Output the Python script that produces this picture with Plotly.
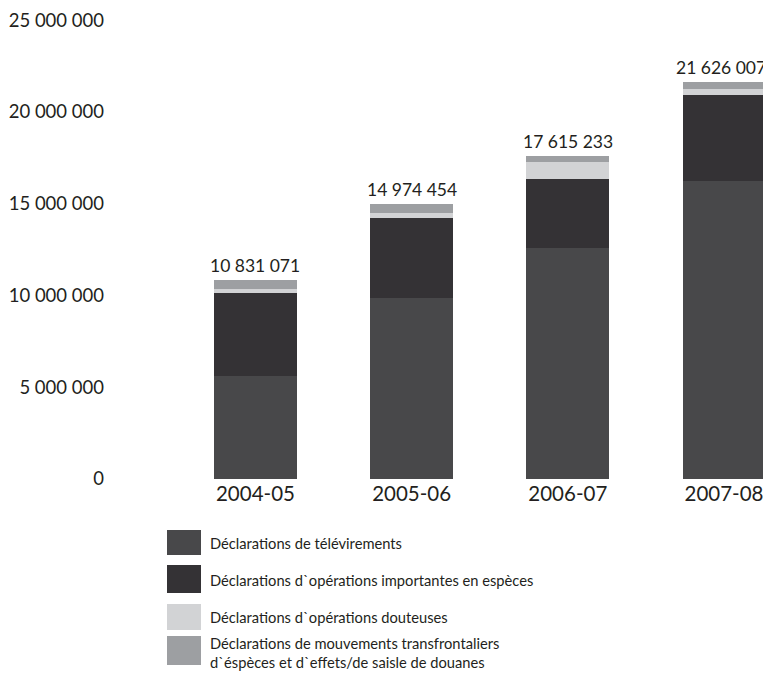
import plotly.graph_objects as go

# ---- data ----
periods = ["2004-05", "2005-06", "2006-07", "2007-08"]
televirements = [5620000, 9860000, 12600000, 16220000]
especes = [4540000, 4360000, 3750000, 4720000]
douteuses = [210000, 300000, 910000, 310000]
transfrontaliers = [461071, 454454, 355233, 376007]
totals = [10831071, 14974454, 17615233, 21626007]
total_labels = ["10 831 071", "14 974 454", "17 615 233", "21 626 007"]

series_names = [
    "Déclarations de télévirements",
    "Déclarations d`opérations importantes en espèces",
    "Déclarations d`opérations douteuses",
    "Déclarations de mouvements transfrontaliers<br>d`éspèces et d`effets/de saisle de douanes",
]
series_values = [televirements, especes, douteuses, transfrontaliers]
colors = ["#48484a", "#343235", "#d2d3d5", "#9d9fa2"]

OFF = 8                      # page body margin
W, H = 771 - OFF, 682 - OFF  # figure size fitting the window
L, R, T, B = 100, 758, 0, 471  # plot area in figure pixels
FONT = "Lato"
TXT = "#231f20"

fig = go.Figure()
for name, vals, col in zip(series_names, series_values, colors):
    fig.add_trace(go.Bar(
        x=periods, y=vals, name=name, marker=dict(color=col, line=dict(width=0)),
        width=0.53, showlegend=False,
    ))

# total labels above the bars
for i, (p, t, lab) in enumerate(zip(periods, totals, total_labels)):
    fig.add_annotation(x=p, y=t, text=lab, showarrow=False, yanchor="bottom",
                       yshift=2, xshift=-3 if i == len(periods) - 1 else 0,
                       font=dict(family=FONT, size=17.5, color=TXT))

def px(x):  # page pixel -> paper
    return (x - OFF - L) / (R - L)

def py(y):
    return (B - (y - OFF)) / (B - T)

# custom legend below the plot
box_rows = [(530, 555), (565, 593), (604, 630), (636, 665)]
text_y = [543, 580, 617, 652]
for (y0, y1), ty, name, col in zip(box_rows, text_y, series_names, colors):
    fig.add_shape(type="rect", xref="paper", yref="paper",
                  x0=px(167), x1=px(201), y0=py(y1), y1=py(y0),
                  fillcolor=col, line=dict(width=0))
    fig.add_annotation(xref="paper", yref="paper", x=px(208), y=py(ty),
                       xanchor="left", yanchor="middle", align="left",
                       text=name, showarrow=False,
                       font=dict(family=FONT, size=14.7, color=TXT))

fig.update_layout(
    width=W, height=H,
    margin=dict(l=L, r=W - R, t=T, b=H - B, pad=0, autoexpand=False),
    barmode="stack",
    plot_bgcolor="white", paper_bgcolor="white",
    separators=". ",
    font=dict(family=FONT, color=TXT),
    showlegend=False,
)
fig.update_xaxes(
    type="category", range=[-0.944, 3.269], showgrid=False, showline=False,
    zeroline=False, ticks="", automargin=False, ticklabeloverflow="allow",
    tickfont=dict(family=FONT, size=20.5, color=TXT),
)
fig.update_yaxes(
    range=[0, 25667000], tickvals=[0, 5000000, 10000000, 15000000, 20000000, 25000000],
    tickformat=",d", showgrid=False, showline=False, zeroline=False, ticks="",
    automargin=False, ticklabeloverflow="allow", ticklabelstandoff=3,
    tickfont=dict(family=FONT, size=18.5, color=TXT),
)

fig.write_html("out.html")
